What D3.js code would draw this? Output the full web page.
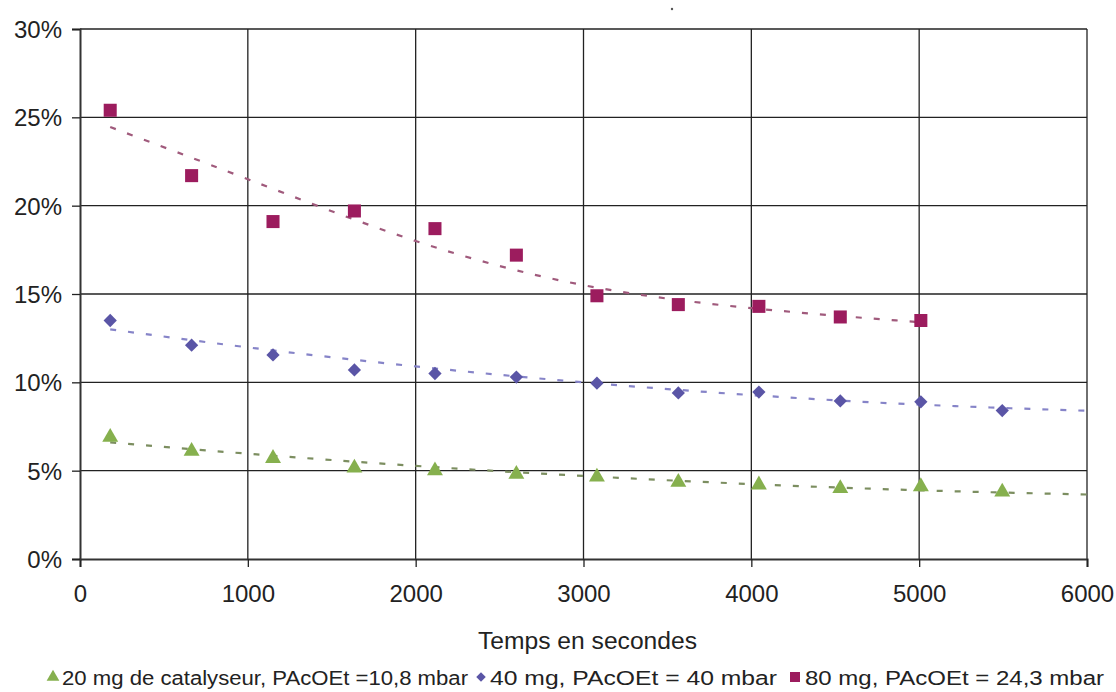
<!DOCTYPE html>
<html>
<head>
<meta charset="utf-8">
<script src="https://cdn.jsdelivr.net/npm/d3@7"></script>
<style>
  body { margin: 0; background: #fff; }
  text { font-family: "Liberation Sans", Arial, sans-serif; fill: #222; }
</style>
</head>
<body>
<div id="chart"></div>
<script>
// values

var tempsRouge = [180, 665, 1150, 1635, 2115, 2600, 3080, 3565, 4045, 4530, 5010];
var valRouge = [25.4, 21.7, 19.1, 19.7, 18.7, 17.2, 14.9, 14.4, 14.3, 13.7, 13.5];

var tempsBleu = [180, 665, 1150, 1635, 2115, 2600, 3080, 3565, 4045, 4530, 5010, 5495];
var valBleu = [13.5, 12.1, 11.55, 10.7, 10.5, 10.3, 9.95, 9.4, 9.45, 8.95, 8.9, 8.4];

var tempsVert = [180, 665, 1150, 1635, 2115, 2600, 3080, 3565, 4045, 4530, 5010, 5495];
var valVert = [6.9, 6.1, 5.7, 5.15, 5.0, 4.8, 4.65, 4.35, 4.2, 4.0, 4.1, 3.8];

// trend lines (dashed)
var trendTempsRouge = [180, 1000, 2000, 3000, 4000, 5010];
var trendRouge = [24.45, 21.5, 18.0, 15.5, 14.2, 13.4];
var trendTemps = [180, 1000, 2000, 3000, 4000, 5000, 6000];
var trendBleu = [13.0, 11.98, 10.9, 10.0, 9.28, 8.74, 8.39];
var trendVert = [6.6, 5.96, 5.27, 4.7, 4.24, 3.89, 3.65];

var xTicks = [0, 1000, 2000, 3000, 4000, 5000, 6000];
var yTicks = [0, 5, 10, 15, 20, 25, 30];

var legendLabels = [
  '20 mg de catalyseur, PAcOEt =10,8 mbar',
  '40 mg, PAcOEt = 40 mbar',
  '80 mg, PAcOEt = 24,3 mbar'
];

// set up svg area
var svgWidth = 1116;
var svgHeight = 692;

var margin = { top: 29, left: 80, right: 29, bottom: 133 };
var width = svgWidth - margin.left - margin.right;
var height = svgHeight - margin.top - margin.bottom;

var svg = d3.select('#chart')
  .append('svg')
  .attr('width', svgWidth)
  .attr('height', svgHeight);

var chartGroup = svg.append('g')
  .attr('transform', `translate(${margin.left}, ${margin.top})`);

var xScale = d3.scaleLinear().domain([0, 6000]).range([0, width]);
var yScale = d3.scaleLinear().domain([0, 30]).range([height, 0]);

// grid lines
chartGroup.selectAll('.vgrid')
  .data(xTicks.slice(1))
  .enter()
  .append('line')
  .attr('x1', d => xScale(d)).attr('x2', d => xScale(d))
  .attr('y1', 0).attr('y2', height)
  .attr('stroke', '#222').attr('stroke-width', 1.3);

chartGroup.selectAll('.hgrid')
  .data(yTicks.slice(1))
  .enter()
  .append('line')
  .attr('x1', 0).attr('x2', width)
  .attr('y1', d => yScale(d)).attr('y2', d => yScale(d))
  .attr('stroke', '#222').attr('stroke-width', 1.3);

// axes
var bottomAxis = d3.axisBottom(xScale).tickValues(xTicks).tickSize(8).tickPadding(16).tickFormat(d3.format('d'));
var leftAxis = d3.axisLeft(yScale).tickValues(yTicks).tickSize(8).tickPadding(10).tickFormat(d => d + '%');

var xAxis = chartGroup.append('g')
  .attr('transform', `translate(0, ${height})`)
  .call(bottomAxis);

var yAxis = chartGroup.append('g')
  .call(leftAxis);

[xAxis, yAxis].forEach(function (ax) {
  ax.select('.domain').attr('stroke', '#333').attr('stroke-width', 2);
  ax.selectAll('.tick line').attr('stroke', '#222').attr('stroke-width', 1.3);
  ax.selectAll('.tick text')
    .style('font-family', '"Liberation Sans", Arial, sans-serif')
    .style('font-size', '24px')
    .attr('fill', '#333');
});
xAxis.selectAll('.tick text').attr('dy', '0.8em');
yAxis.selectAll('.tick text').attr('dy', '0.36em');

var series = [
  { xs: tempsVert, ys: valVert, tx: trendTemps, ty: trendVert, color: '#86b04e', trend: '#7c8e60', shape: d3.symbolTriangle, size: 110, rot: 0 },
  { xs: tempsBleu, ys: valBleu, tx: trendTemps, ty: trendBleu, color: '#5a55a6', trend: '#8684c8', shape: d3.symbolSquare, size: 88, rot: 45 },
  { xs: tempsRouge, ys: valRouge, tx: trendTempsRouge, ty: trendRouge, color: '#9c1c5e', trend: '#a05a7c', shape: d3.symbolSquare, size: 170, rot: 0 }
];

var line = d3.line()
  .x(d => xScale(d[0]))
  .y(d => yScale(d[1]))
  .curve(d3.curveNatural);

series.forEach(function (s) {
  chartGroup.append('path')
    .datum(s.tx.map((x, i) => [x, s.ty[i]]))
    .attr('d', line)
    .attr('fill', 'none')
    .attr('stroke', s.trend)
    .attr('stroke-width', 2.2)
    .attr('stroke-dasharray', '6,12');
});

series.forEach(function (s) {
  chartGroup.selectAll(null)
    .data(s.xs.map((x, i) => [x, s.ys[i]]))
    .enter()
    .append('path')
    .attr('d', d3.symbol().type(s.shape).size(s.size))
    .attr('transform', d => `translate(${xScale(d[0])}, ${yScale(d[1])}) rotate(${s.rot})`)
    .attr('fill', s.color);
});

// axis title
svg.append('text')
  .attr('x', 478)
  .attr('y', 649)
  .attr('textLength', 219)
  .attr('lengthAdjust', 'spacingAndGlyphs')
  .style('font-size', '23px')
  .attr('fill', '#333')
  .text('Temps en secondes');

// legend
var legendItems = [
  { sx: 53, tx: 62, w: 406, shape: d3.symbolTriangle, size: 70, rot: 0, color: '#86b04e' },
  { sx: 481, tx: 490, w: 287, shape: d3.symbolSquare, size: 45, rot: 45, color: '#5a55a6' },
  { sx: 795, tx: 805, w: 299, shape: d3.symbolSquare, size: 100, rot: 0, color: '#9c1c5e' }
];

legendItems.forEach(function (it, i) {
  svg.append('path')
    .attr('d', d3.symbol().type(it.shape).size(it.size))
    .attr('transform', `translate(${it.sx}, 677) rotate(${it.rot})`)
    .attr('fill', it.color);
  svg.append('text')
    .attr('x', it.tx)
    .attr('y', 685)
    .attr('textLength', it.w)
    .attr('lengthAdjust', 'spacingAndGlyphs')
    .style('font-size', '20px')
    .attr('fill', '#333')
    .text(legendLabels[i]);
});

// stray dot at the top
svg.append('circle').attr('cx', 672).attr('cy', 9).attr('r', 1.2).attr('fill', '#555');
</script>
</body>
</html>
